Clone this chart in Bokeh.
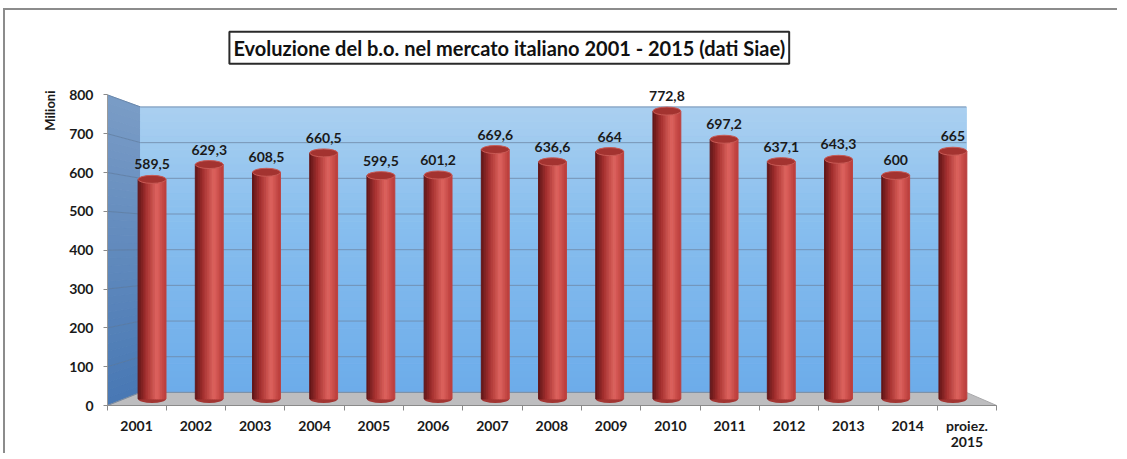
import numpy as np
from bokeh.plotting import figure
from bokeh.models import Range1d, FixedTicker, Label, ColumnDataSource, Title
from bokeh.embed import file_html
from bokeh.resources import INLINE
from bokeh.core.properties import value

# ---------------- data ----------------
categories = ["2001", "2002", "2003", "2004", "2005", "2006", "2007", "2008",
              "2009", "2010", "2011", "2012", "2013", "2014", "proiez.\n2015"]
values = [589.5, 629.3, 608.5, 660.5, 599.5, 601.2, 669.6, 636.6,
          664, 772.8, 697.2, 637.1, 643.3, 600, 665]
value_labels = ["589,5", "629,3", "608,5", "660,5", "599,5", "601,2", "669,6", "636,6",
                "664", "772,8", "697,2", "637,1", "643,3", "600", "665"]
y_ticks = [0, 100, 200, 300, 400, 500, 600, 700, 800]
title_text = "Evoluzione del b.o. nel mercato italiano 2001 - 2015 (dati Siae)"
y_title = "Milioni"

# ---------------- geometry (page pixels -> data) ----------------
W, H = 1112, 443
OX, OY = 5, 12          # canvas origin on the page (after border/margin)
PX_X, X0_PAGE = 59.2, 136.0
PX_Y, Y0_PAGE = 0.38625, 405.0
FL_PAGE = 107.0


def px2x(px):
    return (px - X0_PAGE) / PX_X


def py2y(py):
    return (Y0_PAGE - py) / PX_Y


x_min, x_max = px2x(FL_PAGE), px2x(OX + W)
y_max = py2y(OY)

# perspective (vanishing point) for the 3D look
VX, VY = px2x(570), py2y(244)
SX_BACK, SY_BACK = 0.9287, 0.919


def proj(x, y, t):
    sx = 1 - t * (1 - SX_BACK)
    sy = 1 - t * (1 - SY_BACK)
    return VX + sx * (np.asarray(x, float) - VX), VY + sy * (np.asarray(y, float) - VY)


def hexcol(c):
    return "#%02x%02x%02x" % tuple(int(round(v)) for v in c)


def grad(stops, u):
    for (u0, c0), (u1, c1) in zip(stops[:-1], stops[1:]):
        if u <= u1:
            f = (u - u0) / (u1 - u0) if u1 > u0 else 0
            return hexcol([a + (b - a) * f for a, b in zip(c0, c1)])
    return hexcol(stops[-1][1])


p = figure(width=W, height=H, x_range=Range1d(x_min, x_max), y_range=Range1d(0, y_max),
           output_backend="svg", toolbar_location=None,
           min_border_left=int(FL_PAGE - OX), min_border_right=0, min_border_top=0,
           min_border_bottom=int(OY + H - Y0_PAGE),
           styles={"border-top": "2px solid #8c8c8c", "border-left": "2px solid #8c8c8c",
                   "border-right": "none", "border-bottom": "none",
                   "margin-left": "3px", "margin-top": "8px",
                   "box-sizing": "content-box", "overflow": "hidden"})
p.outline_line_color = None
p.grid.visible = False
p.background_fill_color = "white"
p.border_fill_color = "white"

XFL = px2x(FL_PAGE)
XFR = 14.5
YTOP = y_ticks[-1]

# ---- side wall (gradient bands) ----
K = 40
levels = np.linspace(0, YTOP, K + 1)
xs_side, ys_side, c_side = [], [], []
for k in range(K):
    v0, v1 = levels[k], levels[k + 1]
    bx0, by0 = proj(XFL, v0, 1)
    bx1, by1 = proj(XFL, v1, 1)
    xs_side.append([XFL, float(bx0), float(bx1), XFL])
    ys_side.append([v0, float(by0), float(by1), v1])
    u = 1 - (v0 + v1) / 2 / YTOP
    c_side.append(grad([(0, (122, 156, 198)), (1, (72, 120, 180))], u))
p.patches(xs_side, ys_side, fill_color=c_side, line_color=c_side, line_width=1)

# ---- back wall (gradient bands) ----
bl_x = float(proj(XFL, 0, 1)[0])
br_x = float(proj(XFR, 0, 1)[0])
tops, bots, c_back = [], [], []
for k in range(K):
    b0 = float(proj(0, levels[k], 1)[1])
    b1 = float(proj(0, levels[k + 1], 1)[1])
    bots.append(b0)
    tops.append(b1)
    u = 1 - (levels[k] + levels[k + 1]) / 2 / YTOP
    c_back.append(grad([(0, (170, 208, 240)), (0.4, (136, 190, 238)), (1, (108, 172, 234))], u))
p.quad(left=bl_x, right=br_x, bottom=bots, top=tops,
       fill_color=c_back, line_color=c_back, line_width=1)

# ---- floor ----
fbl = proj(XFL, 0, 1)
fbr = proj(XFR, 0, 1)
p.patch([XFL, XFR, float(fbr[0]), float(fbl[0])], [0, 0, float(fbr[1]), float(fbl[1])],
        fill_color="#bdbdbf", line_color="#a8a8aa", line_width=1)

# ---- grid lines on walls ----
gy = [float(proj(0, t, 1)[1]) for t in y_ticks]
m = len(y_ticks)
p.segment(x0=[bl_x] * m, y0=gy, x1=[br_x] * m, y1=gy,
          line_color="#6f88a6", line_width=1, line_alpha=0.8)
p.segment(x0=[XFL] * m, y0=y_ticks, x1=[bl_x] * m, y1=gy,
          line_color="#5d7897", line_width=1, line_alpha=0.6)

# ---- cylinders ----
n = len(values)
idx = np.arange(n)
bar_x, bar_top = proj(idx, values, 0.5)
bar_x = [float(v) for v in bar_x]
bar_top = [float(v) for v in bar_top]
bar_base = float(proj(0, 0, 0.5)[1])
BW = 0.47
NS = 16
shade_stops = [(0, (92, 20, 22)), (0.3, (165, 48, 47)), (0.68, (222, 100, 95)), (1, (186, 60, 58))]
sx, stop, sc = [], [], []
for i in range(n):
    for j in range(NS):
        u = (j + 0.5) / NS
        sx.append(bar_x[i] - BW / 2 + u * BW)
        stop.append(bar_top[i])
        sc.append(grad(shade_stops, u))

# bottom rounded caps
p.ellipse(x=bar_x, y=[bar_base] * n, width=BW, height=8, height_units="screen",
          fill_color="#a23532", line_color=None)
p.vbar(x=sx, bottom=bar_base, top=stop, width=BW / NS, fill_color=sc, line_color=sc,
       line_width=1)
# top caps
p.ellipse(x=bar_x, y=bar_top, width=BW, height=8, height_units="screen",
          fill_color="#a33330", line_color="#c85a55", line_width=1)

# ---- value labels ----
src = ColumnDataSource(dict(x=bar_x, y=bar_top, t=value_labels))
p.text(x="x", y="y", text="t", source=src, text_align="center", text_baseline="alphabetic",
       y_offset=-15, text_font=value("Lato"), text_font_style="bold",
       text_font_size="14px", text_color="#1a1a1a")

# ---- axes ----
xa = p.xaxis[0]
xa.ticker = FixedTicker(ticks=list(range(n)), minor_ticks=[XFL + 0.005] + [i + 0.5 for i in range(n)])
xa.major_label_overrides = {i: c for i, c in enumerate(categories)}
xa.bounds = (XFL, XFR)
xa.axis_line_color = "#8a8a8a"
xa.major_tick_line_color = None
xa.major_tick_out = 0
xa.minor_tick_line_color = "#8a8a8a"
xa.minor_tick_out = 5
xa.minor_tick_in = 0
xa.major_label_standoff = 6
xa.major_label_text_font = "Lato"
xa.major_label_text_font_style = "bold"
xa.major_label_text_font_size = "14px"
xa.major_label_text_line_height = 0.95
xa.major_label_text_color = "#1a1a1a"

ya = p.yaxis[0]
ya.ticker = FixedTicker(ticks=y_ticks, minor_ticks=[])
ya.bounds = (0, YTOP)
ya.axis_line_color = "#9a9a9a"
ya.major_tick_line_color = "#8a8a8a"
ya.major_tick_out = 4
ya.major_tick_in = 0
ya.minor_tick_line_color = None
ya.major_label_standoff = 10
ya.major_label_text_font = "Lato"
ya.major_label_text_font_style = "bold"
ya.major_label_text_font_size = "14px"
ya.major_label_text_color = "#1a1a1a"

# ---- titles ----
p.add_layout(Title(text=y_title, align="right", offset=80, standoff=17,
                   text_font="Lato", text_font_style="bold", text_font_size="13px",
                   text_color="#1a1a1a"), "left")
p.add_layout(Label(x=px2x(508), y=py2y(49), text=title_text, text_align="center",
                   text_baseline="middle", text_font="Lato", text_font_style="bold",
                   text_font_size="20px", text_color="#111111",
                   border_line_color="#2a2a2a", border_line_width=2,
                   background_fill_color="white", padding=4))

open("out.html", "w").write(file_html(p, INLINE))
